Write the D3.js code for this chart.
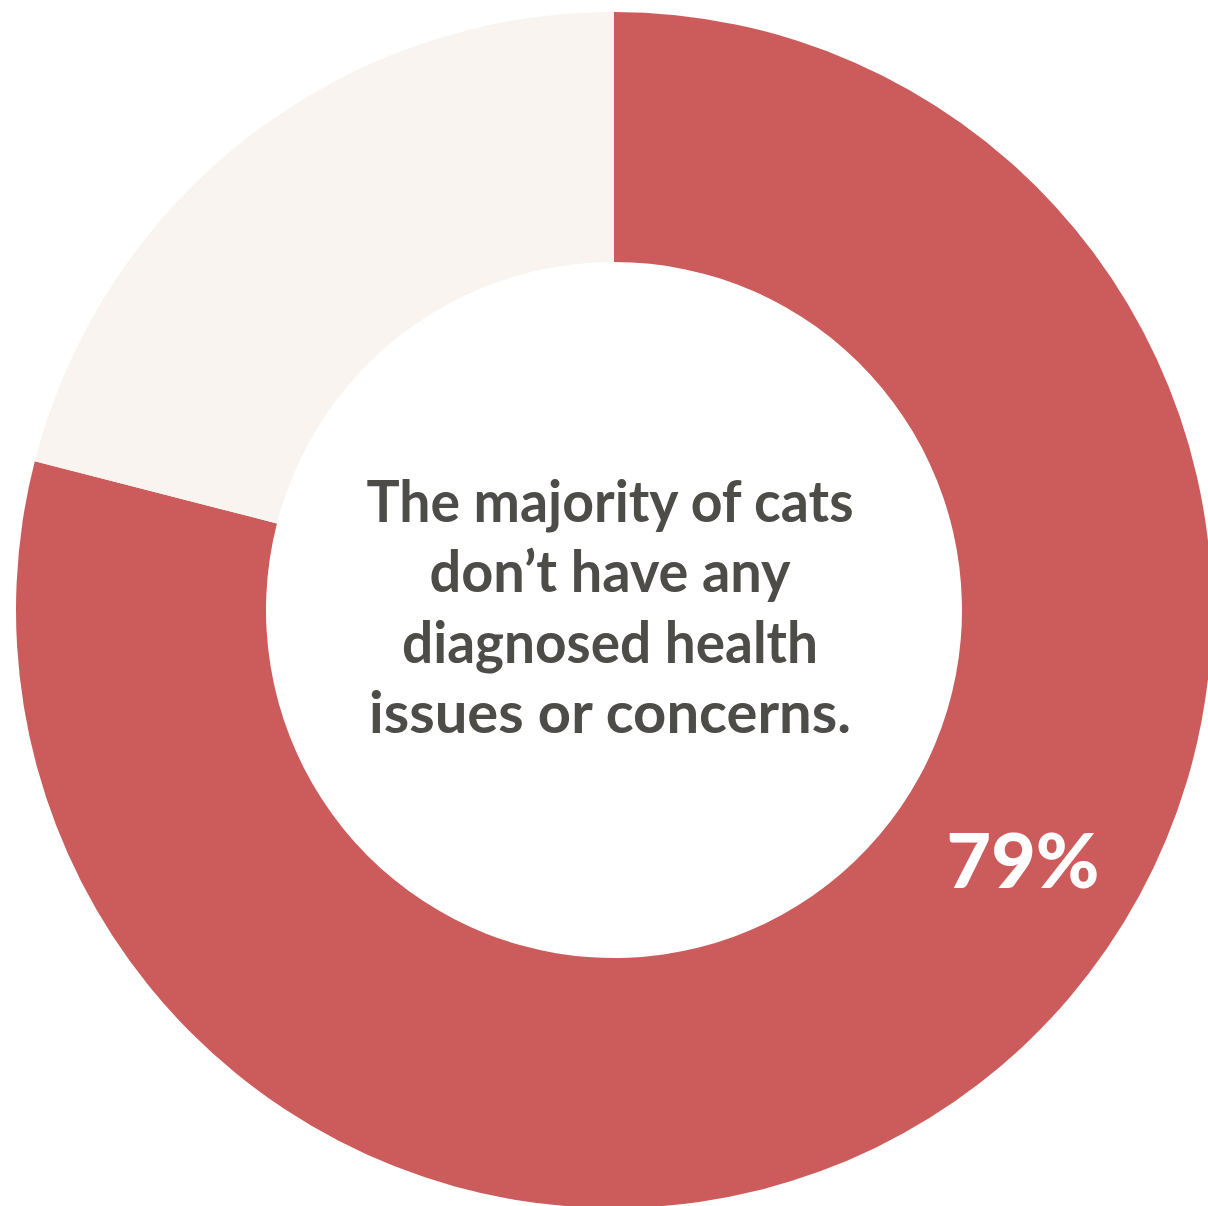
<!DOCTYPE html>
<html>
<head>
<meta charset="utf-8">
<script src="https://cdn.jsdelivr.net/npm/d3@7"></script>
<style>
html,body{margin:0;padding:0;background:#fff;overflow:hidden;}
</style>
</head>
<body>
<svg id="chart" width="1208" height="1206"></svg>
<script>
const categories = ["No diagnosed health issues", "Diagnosed health issues"];
const values = [79, 21];
const colors = ["#CC5C5C", "#F9F4F0"];
const centerLines = ["The majority of cats", "don’t have any", "diagnosed health", "issues or concerns."];
const lineWidths = [487, 361, 416, 482];
const valueLabel = "79%";

const svg = d3.select("#chart");
const cx = 614, cy = 610, outerR = 598, innerR = 348;
const g = svg.append("g").attr("transform", `translate(${cx},${cy})`);

const pie = d3.pie().sort(null).value(d => d)(values);
const arc = d3.arc().innerRadius(innerR).outerRadius(outerR);

g.selectAll("path").data(pie).join("path")
  .attr("d", arc)
  .attr("fill", (d, i) => colors[i]);

const baselines = [522, 592, 663, 733];
svg.selectAll("text.center").data(centerLines).join("text")
  .attr("class", "center")
  .attr("x", 610)
  .attr("y", (d, i) => baselines[i])
  .attr("text-anchor", "middle")
  .attr("font-family", "Lato, 'Open Sans', sans-serif")
  .attr("font-weight", 700)
  .attr("font-size", 57)
  .attr("fill", "#4D4C48")
  .attr("textLength", (d, i) => lineWidths[i])
  .attr("lengthAdjust", "spacingAndGlyphs")
  .text(d => d);

svg.append("text")
  .attr("x", 1023)
  .attr("y", 888)
  .attr("text-anchor", "middle")
  .attr("font-family", "Lato, 'Open Sans', sans-serif")
  .attr("font-weight", 900)
  .attr("font-size", 77)
  .attr("fill", "#FFFFFF")
  .attr("textLength", 153)
  .attr("lengthAdjust", "spacingAndGlyphs")
  .text(valueLabel);
</script>
</body>
</html>
